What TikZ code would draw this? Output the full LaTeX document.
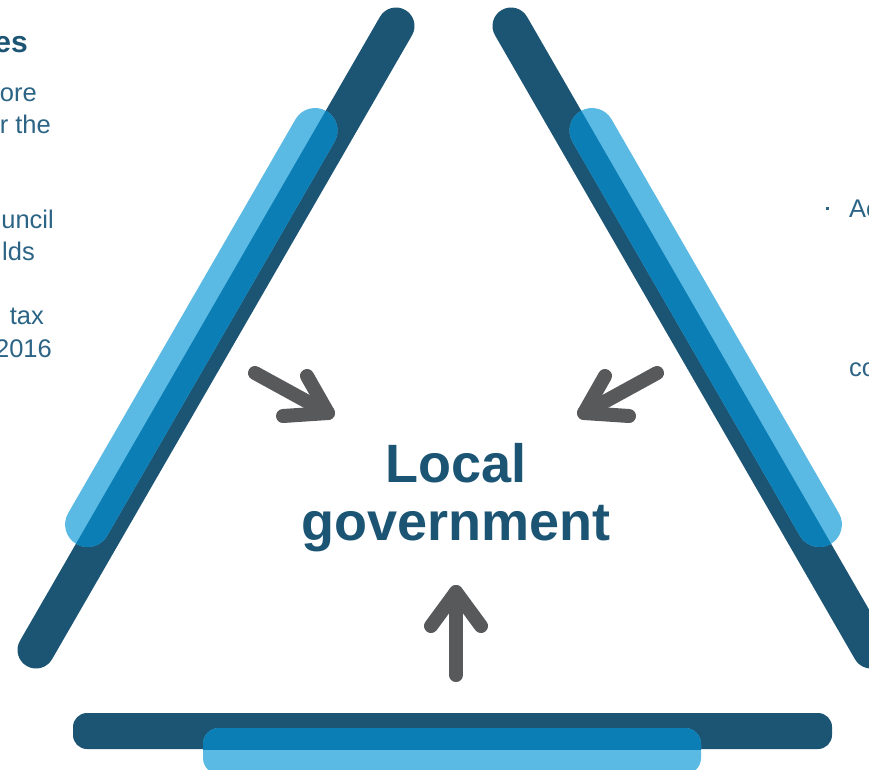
\documentclass[tikz,border=0pt]{standalone}
\usepackage{fontspec}
\setmainfont{Liberation Sans}
\usetikzlibrary{calc}
\definecolor{darkbar}{HTML}{1C5574}
\definecolor{lightbar}{HTML}{5BBAE4}
\definecolor{overbar}{HTML}{0A7EB5}
\definecolor{arrowgray}{HTML}{58595B}
\definecolor{textblue}{HTML}{1C5574}
\definecolor{bodyblue}{HTML}{2C6486}
\begin{document}
\begin{tikzpicture}[x=1pt,y=-1pt,
  darkstroke/.style={draw=darkbar, line width=37pt, line cap=round},
  lightstroke/.style={draw=lightbar, line width=45pt, line cap=round},
  overstroke/.style={draw=overbar, line width=45pt, line cap=round},
  arrowline/.style={draw=arrowgray, line width=14pt, line cap=round, line join=round},
  bodytext/.style={font=\fontsize{25.5}{30}\selectfont, text=bodyblue, inner sep=0pt},
  headtext/.style={font=\fontsize{30}{34}\selectfont\bfseries, text=textblue, inner sep=0pt},
  titletext/.style={font=\fontsize{54}{58}\selectfont\bfseries, text=textblue, inner sep=0pt, anchor=base}]
\useasboundingbox (0,0) rectangle (869,769);
\fill[white] (0,0) rectangle (869,769);
\begin{scope}
\clip (0,0) rectangle (869,769);
% coordinates of bars
\coordinate (LDa) at (396,26);
\coordinate (LDb) at (36,650);
\coordinate (LLa) at (315,130.5);
\coordinate (LLb) at (87.6,524.5);
\coordinate (RDa) at (511,26);
\coordinate (RDb) at (871,650);
\coordinate (RLa) at (592,130.5);
\coordinate (RLb) at (819.4,524.5);
% left bar
\draw[darkstroke] (LDa) -- (LDb);
\draw[lightstroke] (LLa) -- (LLb);
\begin{scope}
\clip ($(LDa)!18.5pt!90:(LDb)$) -- ($(LDa)!18.5pt!-90:(LDb)$) -- ($(LDb)!18.5pt!90:(LDa)$) -- ($(LDb)!18.5pt!-90:(LDa)$) -- cycle;
\draw[overstroke] (LLa) -- (LLb);
\end{scope}
% right bar
\draw[darkstroke] (RDa) -- (RDb);
\draw[lightstroke] (RLa) -- (RLb);
\begin{scope}
\clip ($(RDa)!18.5pt!90:(RDb)$) -- ($(RDa)!18.5pt!-90:(RDb)$) -- ($(RDb)!18.5pt!90:(RDa)$) -- ($(RDb)!18.5pt!-90:(RDa)$) -- cycle;
\draw[overstroke] (RLa) -- (RLb);
\end{scope}
% bottom bar
\fill[darkbar, rounded corners=14pt] (73,713) rectangle (832,749);
\fill[lightbar, rounded corners=16pt] (203,728) rectangle (701,774);
\begin{scope}
\clip (73,713) rectangle (832,749);
\fill[overbar, rounded corners=16pt] (203,728) rectangle (701,774);
\end{scope}
% arrows
\coordinate (a1s) at (255,373);
\coordinate (a1t) at (328,413);
\coordinate (a1p) at (283,416);
\coordinate (a1q) at (307,376);
\draw[arrowline] (a1s) -- (a1t);
\draw[arrowline] (a1p) -- (a1t) -- (a1q);
\coordinate (a2s) at (657,373);
\coordinate (a2t) at (584,413);
\coordinate (a2p) at (629,416);
\coordinate (a2q) at (605,376);
\draw[arrowline] (a2s) -- (a2t);
\draw[arrowline] (a2p) -- (a2t) -- (a2q);
\coordinate (a3s) at (456,675);
\coordinate (a3t) at (456,592);
\coordinate (a3p) at (431,626);
\coordinate (a3q) at (481,626);
\draw[arrowline] (a3s) -- (a3t);
\draw[arrowline] (a3p) -- (a3t) -- (a3q);
% title
\node[titletext] (t1) at (456,482) {Local};
\node[titletext] (t2) at (456,540) {government};
% left text fragments
\node[headtext, anchor=base east] (h1) at (28,52) {es};
\node[bodytext, anchor=base east] (b1) at (37,101) {ore};
\node[bodytext, anchor=base east] (b2) at (51,133) {r the};
\node[bodytext, anchor=base east] (b3) at (54,228) {uncil};
\node[bodytext, anchor=base east] (b4) at (35,260) {lds};
\node[bodytext, anchor=base east] (b5) at (44,324) {tax};
\node[bodytext, anchor=base east] (b6) at (52,357) {2016};
% right text fragments
\fill[bodyblue] (825.5,206.5) rectangle (828.5,209.5);
\node[bodytext, anchor=base west] (r1) at (849,217) {Ac};
\node[bodytext, anchor=base west] (r2) at (849,376) {co};
\end{scope}
\end{tikzpicture}
\end{document}
